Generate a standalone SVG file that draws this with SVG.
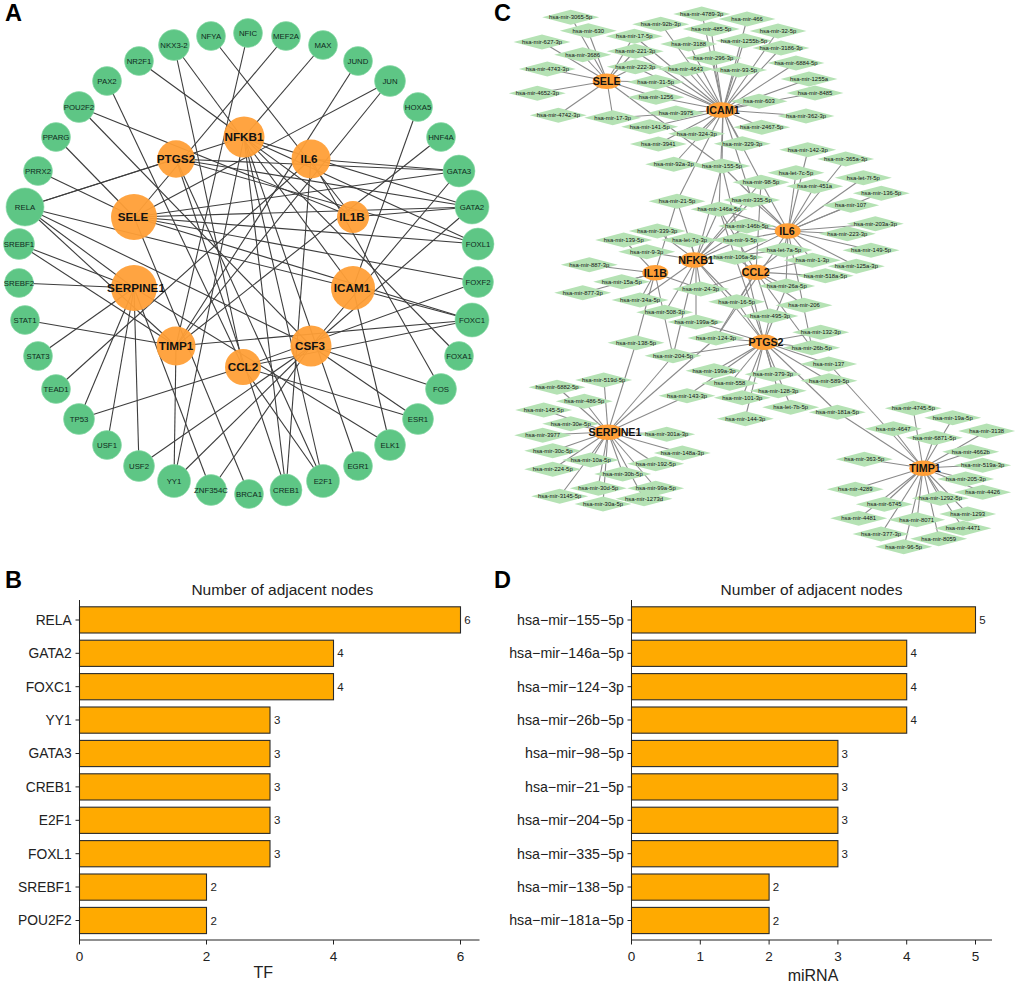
<svg xmlns="http://www.w3.org/2000/svg" width="1020" height="985" viewBox="0 0 1020 985">
<style>
text{font-family:"Liberation Sans",Arial,sans-serif;text-anchor:middle}
.bg{fill:#fff}
.ea line{stroke:#3d3d3d;stroke-width:1.1}
.ec line{stroke:#8a8a8a;stroke-width:1.1}
.tf{fill:#5ec685;stroke:#8fdcab;stroke-width:.6}
.tf+text{font-size:7.8px;fill:#0f2a20}
.ge{fill:#ff9f37;fill-opacity:.95}
.ge+text{font-size:11.7px;font-weight:bold;fill:#111}
.mi{fill:#b5e2b4}
.mt{font-size:5.9px;fill:#111}
.cg{fill:#ff9f37}
.cg+text{font-size:10.7px;font-weight:bold;fill:#111}
.let{font-size:23.5px;font-weight:bold;fill:#000;text-anchor:start}
.bar{fill:#ffaa00;stroke:#2b2b2b;stroke-width:1.1}
.ax{stroke:#222;stroke-width:1;fill:none}
.yl{font-size:13.8px;fill:#222;text-anchor:end}
.yd{font-size:14.2px;fill:#222;text-anchor:end}
.xl{font-size:13.5px;fill:#222}
.val{font-size:11.5px;fill:#222;text-anchor:start}
.ti{font-size:15.5px;fill:#222}
.at{font-size:16px;fill:#222}
</style>
<defs><polygon id="d" points="-28.5,0 0,-7.5 28.5,0 0,7.5"/></defs>
<rect class="bg" width="1020" height="985"/>
<text class="let" x="5" y="21">A</text><text class="let" x="5" y="588">B</text><text class="let" x="494" y="21">C</text><text class="let" x="494" y="588">D</text>

<g id="connectors-a" class="ea">
<line x1="139" y1="61" x2="353" y2="217"/><line x1="174" y1="45" x2="353" y2="288"/><line x1="174" y1="45" x2="243" y2="367"/><line x1="211" y1="36" x2="353" y2="217"/><line x1="248" y1="33" x2="176" y2="346"/><line x1="286" y1="36" x2="134" y2="217"/><line x1="323" y1="45" x2="244" y2="137"/><line x1="358" y1="61" x2="176" y2="346"/><line x1="390" y1="81" x2="176" y2="346"/><line x1="390" y1="81" x2="134" y2="217"/><line x1="418" y1="107" x2="353" y2="288"/><line x1="441" y1="137" x2="176" y2="346"/><line x1="459" y1="171" x2="311" y2="159"/><line x1="459" y1="171" x2="134" y2="217"/><line x1="459" y1="171" x2="311" y2="346"/><line x1="459" y1="171" x2="176" y2="159"/><line x1="472" y1="207" x2="176" y2="159"/><line x1="472" y1="207" x2="244" y2="137"/><line x1="472" y1="207" x2="353" y2="217"/><line x1="472" y1="207" x2="134" y2="217"/><line x1="472" y1="207" x2="311" y2="346"/><line x1="478" y1="244" x2="244" y2="137"/><line x1="478" y1="244" x2="176" y2="159"/><line x1="478" y1="244" x2="134" y2="217"/><line x1="478" y1="282" x2="243" y2="367"/><line x1="478" y1="282" x2="134" y2="217"/><line x1="472" y1="320" x2="353" y2="288"/><line x1="472" y1="320" x2="176" y2="346"/><line x1="472" y1="320" x2="243" y2="367"/><line x1="472" y1="320" x2="134" y2="217"/><line x1="459" y1="356" x2="244" y2="137"/><line x1="441" y1="389" x2="311" y2="159"/><line x1="441" y1="389" x2="311" y2="346"/><line x1="418" y1="419" x2="311" y2="346"/><line x1="418" y1="419" x2="243" y2="367"/><line x1="390" y1="445" x2="353" y2="288"/><line x1="390" y1="445" x2="134" y2="288"/><line x1="358" y1="466" x2="244" y2="137"/><line x1="323" y1="481" x2="244" y2="137"/><line x1="323" y1="481" x2="243" y2="367"/><line x1="323" y1="481" x2="176" y2="159"/><line x1="286" y1="490" x2="311" y2="159"/><line x1="286" y1="490" x2="244" y2="137"/><line x1="286" y1="490" x2="176" y2="159"/><line x1="249" y1="494" x2="134" y2="217"/><line x1="211" y1="490" x2="134" y2="288"/><line x1="211" y1="490" x2="311" y2="346"/><line x1="174" y1="481" x2="176" y2="346"/><line x1="174" y1="481" x2="244" y2="137"/><line x1="174" y1="481" x2="311" y2="346"/><line x1="139" y1="466" x2="134" y2="288"/><line x1="139" y1="466" x2="311" y2="346"/><line x1="107" y1="445" x2="134" y2="288"/><line x1="79" y1="419" x2="134" y2="288"/><line x1="79" y1="419" x2="243" y2="367"/><line x1="56" y1="389" x2="311" y2="159"/><line x1="38" y1="356" x2="134" y2="288"/><line x1="25" y1="320" x2="176" y2="346"/><line x1="19" y1="283" x2="134" y2="288"/><line x1="19" y1="244" x2="134" y2="288"/><line x1="19" y1="244" x2="176" y2="346"/><line x1="25" y1="207" x2="176" y2="159"/><line x1="25" y1="207" x2="244" y2="137"/><line x1="25" y1="207" x2="353" y2="288"/><line x1="25" y1="207" x2="311" y2="346"/><line x1="25" y1="207" x2="176" y2="346"/><line x1="25" y1="207" x2="134" y2="288"/><line x1="38" y1="171" x2="134" y2="217"/><line x1="56" y1="137" x2="134" y2="217"/><line x1="79" y1="107" x2="353" y2="217"/><line x1="79" y1="107" x2="311" y2="346"/><line x1="107" y1="81" x2="243" y2="367"/>
</g>

<g id="a-NFIC"><circle class="tf" cx="248" cy="33" r="14.5"/><text x="248" y="35.7">NFIC</text></g>
<g id="a-NFYA"><circle class="tf" cx="211" cy="36" r="14.5"/><text x="211" y="38.7">NFYA</text></g>
<g id="a-NKX3-2"><circle class="tf" cx="174" cy="45" r="15.5"/><text x="174" y="47.7">NKX3-2</text></g>
<g id="a-NR2F1"><circle class="tf" cx="139" cy="61" r="14.5"/><text x="139" y="63.7">NR2F1</text></g>
<g id="a-PAX2"><circle class="tf" cx="107" cy="81" r="14.5"/><text x="107" y="83.7">PAX2</text></g>
<g id="a-POU2F2"><circle class="tf" cx="79" cy="107" r="15.5"/><text x="79" y="109.7">POU2F2</text></g>
<g id="a-PPARG"><circle class="tf" cx="56" cy="137" r="14.5"/><text x="56" y="139.7">PPARG</text></g>
<g id="a-PRRX2"><circle class="tf" cx="38" cy="171" r="14.5"/><text x="38" y="173.7">PRRX2</text></g>
<g id="a-RELA"><circle class="tf" cx="25" cy="207" r="19"/><text x="25" y="209.7">RELA</text></g>
<g id="a-SREBF1"><circle class="tf" cx="19" cy="244" r="15.5"/><text x="19" y="246.7">SREBF1</text></g>
<g id="a-SREBF2"><circle class="tf" cx="19" cy="283" r="14.5"/><text x="19" y="285.7">SREBF2</text></g>
<g id="a-STAT1"><circle class="tf" cx="25" cy="320" r="14.5"/><text x="25" y="322.7">STAT1</text></g>
<g id="a-STAT3"><circle class="tf" cx="38" cy="356" r="14.5"/><text x="38" y="358.7">STAT3</text></g>
<g id="a-TEAD1"><circle class="tf" cx="56" cy="389" r="14.5"/><text x="56" y="391.7">TEAD1</text></g>
<g id="a-TP53"><circle class="tf" cx="79" cy="419" r="15.5"/><text x="79" y="421.7">TP53</text></g>
<g id="a-USF1"><circle class="tf" cx="107" cy="445" r="14.5"/><text x="107" y="447.7">USF1</text></g>
<g id="a-USF2"><circle class="tf" cx="139" cy="466" r="15.5"/><text x="139" y="468.7">USF2</text></g>
<g id="a-YY1"><circle class="tf" cx="174" cy="481" r="16.5"/><text x="174" y="483.7">YY1</text></g>
<g id="a-ZNF354C"><circle class="tf" cx="211" cy="490" r="15.5"/><text x="211" y="492.7">ZNF354C</text></g>
<g id="a-BRCA1"><circle class="tf" cx="249" cy="494" r="14.5"/><text x="249" y="496.7">BRCA1</text></g>
<g id="a-CREB1"><circle class="tf" cx="286" cy="490" r="16"/><text x="286" y="492.7">CREB1</text></g>
<g id="a-E2F1"><circle class="tf" cx="323" cy="481" r="16.5"/><text x="323" y="483.7">E2F1</text></g>
<g id="a-EGR1"><circle class="tf" cx="358" cy="466" r="14.5"/><text x="358" y="468.7">EGR1</text></g>
<g id="a-ELK1"><circle class="tf" cx="390" cy="445" r="15.5"/><text x="390" y="447.7">ELK1</text></g>
<g id="a-ESR1"><circle class="tf" cx="418" cy="419" r="15.5"/><text x="418" y="421.7">ESR1</text></g>
<g id="a-FOS"><circle class="tf" cx="441" cy="389" r="15.5"/><text x="441" y="391.7">FOS</text></g>
<g id="a-FOXA1"><circle class="tf" cx="459" cy="356" r="14.5"/><text x="459" y="358.7">FOXA1</text></g>
<g id="a-FOXC1"><circle class="tf" cx="472" cy="320" r="17"/><text x="472" y="322.7">FOXC1</text></g>
<g id="a-FOXF2"><circle class="tf" cx="478" cy="282" r="15.5"/><text x="478" y="284.7">FOXF2</text></g>
<g id="a-FOXL1"><circle class="tf" cx="478" cy="244" r="16"/><text x="478" y="246.7">FOXL1</text></g>
<g id="a-GATA2"><circle class="tf" cx="472" cy="207" r="17"/><text x="472" y="209.7">GATA2</text></g>
<g id="a-GATA3"><circle class="tf" cx="459" cy="171" r="16"/><text x="459" y="173.7">GATA3</text></g>
<g id="a-HNF4A"><circle class="tf" cx="441" cy="137" r="14.5"/><text x="441" y="139.7">HNF4A</text></g>
<g id="a-HOXA5"><circle class="tf" cx="418" cy="107" r="14.5"/><text x="418" y="109.7">HOXA5</text></g>
<g id="a-JUN"><circle class="tf" cx="390" cy="81" r="15.5"/><text x="390" y="83.7">JUN</text></g>
<g id="a-JUND"><circle class="tf" cx="358" cy="61" r="14.5"/><text x="358" y="63.7">JUND</text></g>
<g id="a-MAX"><circle class="tf" cx="323" cy="45" r="14.5"/><text x="323" y="47.7">MAX</text></g>
<g id="a-MEF2A"><circle class="tf" cx="286" cy="36" r="14.5"/><text x="286" y="38.7">MEF2A</text></g>
<g id="a-g-NFKB1"><circle class="ge" cx="244" cy="137" r="20.5"/><text x="244" y="141">NFKB1</text></g>
<g id="a-g-PTGS2"><circle class="ge" cx="176" cy="159" r="18.7"/><text x="176" y="163">PTGS2</text></g>
<g id="a-g-IL6"><circle class="ge" cx="311" cy="159" r="19.5"/><text x="309" y="163">IL6</text></g>
<g id="a-g-SELE"><circle class="ge" cx="134" cy="217" r="23"/><text x="133" y="221">SELE</text></g>
<g id="a-g-IL1B"><circle class="ge" cx="353" cy="217" r="16"/><text x="352" y="221">IL1B</text></g>
<g id="a-g-SERPINE1"><circle class="ge" cx="134" cy="288" r="23"/><text x="136" y="292">SERPINE1</text></g>
<g id="a-g-ICAM1"><circle class="ge" cx="353" cy="288" r="22"/><text x="352" y="292">ICAM1</text></g>
<g id="a-g-TIMP1"><circle class="ge" cx="176" cy="346" r="19.5"/><text x="176" y="350">TIMP1</text></g>
<g id="a-g-CCL2"><circle class="ge" cx="243" cy="367" r="18"/><text x="243" y="371">CCL2</text></g>
<g id="a-g-CSF3"><circle class="ge" cx="311" cy="346" r="20.5"/><text x="310" y="350">CSF3</text></g>

<g id="connectors-c" class="ec">
<line x1="607" y1="81" x2="571" y2="17"/><line x1="607" y1="81" x2="588" y2="31"/><line x1="607" y1="81" x2="542" y2="42"/><line x1="607" y1="81" x2="583" y2="55"/><line x1="607" y1="81" x2="547" y2="69"/><line x1="607" y1="81" x2="537" y2="93"/><line x1="607" y1="81" x2="558" y2="115"/><line x1="607" y1="81" x2="613" y2="118"/><line x1="607" y1="81" x2="634" y2="36"/><line x1="607" y1="81" x2="635" y2="51"/><line x1="607" y1="81" x2="635" y2="67"/><line x1="607" y1="81" x2="656" y2="82"/><line x1="607" y1="81" x2="656" y2="97"/><line x1="607" y1="81" x2="722" y2="166"/>
<line x1="723" y1="110" x2="702" y2="14"/><line x1="723" y1="110" x2="747" y2="19"/><line x1="723" y1="110" x2="661" y2="24"/><line x1="723" y1="110" x2="711" y2="29"/><line x1="723" y1="110" x2="778" y2="31"/><line x1="723" y1="110" x2="634" y2="36"/><line x1="723" y1="110" x2="689" y2="44"/><line x1="723" y1="110" x2="744" y2="41"/><line x1="723" y1="110" x2="635" y2="51"/><line x1="723" y1="110" x2="713" y2="58"/><line x1="723" y1="110" x2="781" y2="48"/><line x1="723" y1="110" x2="796" y2="63"/><line x1="723" y1="110" x2="686" y2="69"/><line x1="723" y1="110" x2="739" y2="70"/><line x1="723" y1="110" x2="809" y2="79"/><line x1="723" y1="110" x2="635" y2="67"/><line x1="723" y1="110" x2="656" y2="82"/><line x1="723" y1="110" x2="815" y2="93"/><line x1="723" y1="110" x2="759" y2="101"/><line x1="723" y1="110" x2="656" y2="97"/><line x1="723" y1="110" x2="613" y2="118"/><line x1="723" y1="110" x2="806" y2="116"/><line x1="723" y1="110" x2="762" y2="127"/><line x1="723" y1="110" x2="650" y2="127"/><line x1="723" y1="110" x2="742" y2="144"/><line x1="723" y1="110" x2="697" y2="134"/><line x1="723" y1="110" x2="658" y2="144"/><line x1="723" y1="110" x2="674" y2="164"/><line x1="723" y1="110" x2="722" y2="166"/><line x1="723" y1="110" x2="677" y2="201"/><line x1="723" y1="110" x2="719" y2="209"/><line x1="723" y1="110" x2="761" y2="182"/><line x1="723" y1="110" x2="752" y2="200"/>
<line x1="788" y1="231" x2="808" y2="150"/><line x1="788" y1="231" x2="846" y2="159"/><line x1="788" y1="231" x2="796" y2="173"/><line x1="788" y1="231" x2="863" y2="178"/><line x1="788" y1="231" x2="761" y2="182"/><line x1="788" y1="231" x2="815" y2="186"/><line x1="788" y1="231" x2="881" y2="193"/><line x1="788" y1="231" x2="851" y2="205"/><line x1="788" y1="231" x2="752" y2="200"/><line x1="788" y1="231" x2="719" y2="209"/><line x1="788" y1="231" x2="747" y2="226"/><line x1="788" y1="231" x2="875" y2="224"/><line x1="788" y1="231" x2="847" y2="234"/><line x1="788" y1="231" x2="871" y2="250"/><line x1="788" y1="231" x2="856" y2="266"/><line x1="788" y1="231" x2="740" y2="240"/><line x1="788" y1="231" x2="784" y2="250"/><line x1="788" y1="231" x2="722" y2="166"/><line x1="788" y1="231" x2="812" y2="260"/><line x1="788" y1="231" x2="735" y2="257"/><line x1="788" y1="231" x2="786" y2="286"/><line x1="788" y1="231" x2="812" y2="348"/><line x1="788" y1="231" x2="716" y2="338"/>
<line x1="696" y1="260" x2="657" y2="231"/><line x1="696" y1="260" x2="690" y2="240"/><line x1="696" y1="260" x2="647" y2="252"/><line x1="696" y1="260" x2="747" y2="226"/><line x1="696" y1="260" x2="740" y2="240"/><line x1="696" y1="260" x2="735" y2="257"/><line x1="696" y1="260" x2="719" y2="209"/><line x1="696" y1="260" x2="677" y2="201"/><line x1="696" y1="260" x2="722" y2="166"/><line x1="696" y1="260" x2="752" y2="200"/><line x1="696" y1="260" x2="701" y2="289"/><line x1="696" y1="260" x2="665" y2="312"/><line x1="696" y1="260" x2="696" y2="322"/><line x1="696" y1="260" x2="737" y2="302"/><line x1="696" y1="260" x2="640" y2="300"/><line x1="696" y1="260" x2="784" y2="250"/><line x1="696" y1="260" x2="764" y2="342"/><line x1="696" y1="260" x2="673" y2="356"/><line x1="696" y1="260" x2="761" y2="182"/>
<line x1="655" y1="273" x2="589" y2="265"/><line x1="655" y1="273" x2="622" y2="282"/><line x1="655" y1="273" x2="583" y2="293"/><line x1="655" y1="273" x2="624" y2="240"/><line x1="655" y1="273" x2="640" y2="300"/><line x1="655" y1="273" x2="701" y2="289"/><line x1="655" y1="273" x2="677" y2="201"/><line x1="655" y1="273" x2="636" y2="343"/><line x1="655" y1="273" x2="673" y2="356"/>
<line x1="756" y1="272" x2="735" y2="257"/><line x1="756" y1="272" x2="812" y2="260"/><line x1="756" y1="272" x2="825" y2="276"/><line x1="756" y1="272" x2="701" y2="289"/><line x1="756" y1="272" x2="787" y2="286"/><line x1="756" y1="272" x2="737" y2="302"/><line x1="756" y1="272" x2="770" y2="316"/><line x1="756" y1="272" x2="804" y2="305"/><line x1="756" y1="272" x2="784" y2="250"/><line x1="756" y1="272" x2="716" y2="338"/><line x1="756" y1="272" x2="719" y2="209"/><line x1="756" y1="272" x2="761" y2="182"/><line x1="756" y1="272" x2="812" y2="348"/>
<line x1="764" y1="342" x2="821" y2="332"/><line x1="764" y1="342" x2="812" y2="348"/><line x1="764" y1="342" x2="829" y2="364"/><line x1="764" y1="342" x2="829" y2="381"/><line x1="764" y1="342" x2="773" y2="374"/><line x1="764" y1="342" x2="778" y2="391"/><line x1="764" y1="342" x2="791" y2="407"/><line x1="764" y1="342" x2="837" y2="412"/><line x1="764" y1="342" x2="745" y2="419"/><line x1="764" y1="342" x2="742" y2="398"/><line x1="764" y1="342" x2="730" y2="383"/><line x1="764" y1="342" x2="714" y2="371"/><line x1="764" y1="342" x2="687" y2="396"/><line x1="764" y1="342" x2="716" y2="338"/><line x1="764" y1="342" x2="673" y2="356"/><line x1="764" y1="342" x2="696" y2="322"/><line x1="764" y1="342" x2="770" y2="316"/><line x1="764" y1="342" x2="737" y2="302"/><line x1="764" y1="342" x2="787" y2="286"/><line x1="764" y1="342" x2="722" y2="166"/><line x1="764" y1="342" x2="719" y2="209"/>
<line x1="923" y1="468" x2="829" y2="364"/><line x1="923" y1="468" x2="913" y2="408"/><line x1="923" y1="468" x2="953" y2="418"/><line x1="923" y1="468" x2="893" y2="429"/><line x1="923" y1="468" x2="987" y2="431"/><line x1="923" y1="468" x2="934" y2="438"/><line x1="923" y1="468" x2="971" y2="452"/><line x1="923" y1="468" x2="864" y2="459"/><line x1="923" y1="468" x2="983" y2="465"/><line x1="923" y1="468" x2="966" y2="479"/><line x1="923" y1="468" x2="983" y2="492"/><line x1="923" y1="468" x2="855" y2="489"/><line x1="923" y1="468" x2="940" y2="498"/><line x1="923" y1="468" x2="884" y2="504"/><line x1="923" y1="468" x2="968" y2="514"/><line x1="923" y1="468" x2="859" y2="518"/><line x1="923" y1="468" x2="917" y2="520"/><line x1="923" y1="468" x2="963" y2="528"/><line x1="923" y1="468" x2="881" y2="534"/><line x1="923" y1="468" x2="939" y2="539"/><line x1="923" y1="468" x2="904" y2="547"/><line x1="923" y1="468" x2="837" y2="412"/>
<line x1="608" y1="432" x2="604" y2="380"/><line x1="608" y1="432" x2="557" y2="387"/><line x1="608" y1="432" x2="584" y2="401"/><line x1="608" y1="432" x2="544" y2="410"/><line x1="608" y1="432" x2="571" y2="424"/><line x1="608" y1="432" x2="543" y2="435"/><line x1="608" y1="432" x2="667" y2="434"/><line x1="608" y1="432" x2="682" y2="453"/><line x1="608" y1="432" x2="553" y2="451"/><line x1="608" y1="432" x2="591" y2="460"/><line x1="608" y1="432" x2="656" y2="464"/><line x1="608" y1="432" x2="553" y2="469"/><line x1="608" y1="432" x2="623" y2="474"/><line x1="608" y1="432" x2="656" y2="488"/><line x1="608" y1="432" x2="598" y2="488"/><line x1="608" y1="432" x2="560" y2="496"/><line x1="608" y1="432" x2="644" y2="499"/><line x1="608" y1="432" x2="603" y2="504"/><line x1="608" y1="432" x2="636" y2="343"/><line x1="608" y1="432" x2="673" y2="356"/><line x1="608" y1="432" x2="687" y2="396"/><line x1="608" y1="432" x2="716" y2="338"/>
</g>

<g id="c-627-3p"><use href="#d" class="mi" x="542" y="42"/><text class="mt" x="542" y="44">hsa-mir-627-3p</text></g>
<g id="c-3065-5p"><use href="#d" class="mi" x="570.7" y="17.3"/><text class="mt" x="570.7" y="19.3">hsa-mir-3065-5p</text></g>
<g id="c-630"><use href="#d" class="mi" x="588.3" y="30.7"/><text class="mt" x="588.3" y="32.7">hsa-mir-630</text></g>
<g id="c-3686"><use href="#d" class="mi" x="582.7" y="54.7"/><text class="mt" x="582.7" y="56.7">hsa-mir-3686</text></g>
<g id="c-4743-3p"><use href="#d" class="mi" x="547.3" y="69"/><text class="mt" x="547.3" y="71">hsa-mir-4743-3p</text></g>
<g id="c-4652-3p"><use href="#d" class="mi" x="537.3" y="93.3"/><text class="mt" x="537.3" y="95.3">hsa-mir-4652-3p</text></g>
<g id="c-4742-3p"><use href="#d" class="mi" x="558.3" y="115.3"/><text class="mt" x="558.3" y="117.3">hsa-mir-4742-3p</text></g>
<g id="c-17-3p"><use href="#d" class="mi" x="612.7" y="117.7"/><text class="mt" x="612.7" y="119.7">hsa-mir-17-3p</text></g>
<g id="c-17-5p"><use href="#d" class="mi" x="634.3" y="36.3"/><text class="mt" x="634.3" y="38.3">hsa-mir-17-5p</text></g>
<g id="c-92b-3p"><use href="#d" class="mi" x="660.7" y="24.3"/><text class="mt" x="660.7" y="26.3">hsa-mir-92b-3p</text></g>
<g id="c-221-3p"><use href="#d" class="mi" x="635.3" y="51.3"/><text class="mt" x="635.3" y="53.3">hsa-mir-221-3p</text></g>
<g id="c-222-3p"><use href="#d" class="mi" x="635.3" y="66.7"/><text class="mt" x="635.3" y="68.7">hsa-mir-222-3p</text></g>
<g id="c-31-5p"><use href="#d" class="mi" x="655.7" y="82"/><text class="mt" x="655.7" y="84">hsa-mir-31-5p</text></g>
<g id="c-1256"><use href="#d" class="mi" x="656" y="97.3"/><text class="mt" x="656" y="99.3">hsa-mir-1256</text></g>
<g id="c-3975"><use href="#d" class="mi" x="676" y="113"/><text class="mt" x="676" y="115">hsa-mir-3975</text></g>
<g id="c-141-5p"><use href="#d" class="mi" x="649.7" y="126.7"/><text class="mt" x="649.7" y="128.7">hsa-mir-141-5p</text></g>
<g id="c-3941"><use href="#d" class="mi" x="658.3" y="144"/><text class="mt" x="658.3" y="146">hsa-mir-3941</text></g>
<g id="c-324-3p"><use href="#d" class="mi" x="696.7" y="133.7"/><text class="mt" x="696.7" y="135.7">hsa-mir-324-3p</text></g>
<g id="c-329-3p"><use href="#d" class="mi" x="742.3" y="143.7"/><text class="mt" x="742.3" y="145.7">hsa-mir-329-3p</text></g>
<g id="c-92a-3p"><use href="#d" class="mi" x="673.7" y="164.3"/><text class="mt" x="673.7" y="166.3">hsa-mir-92a-3p</text></g>
<g id="c-155-5p"><use href="#d" class="mi" x="722" y="166"/><text class="mt" x="722" y="168">hsa-mir-155-5p</text></g>
<g id="c-4789-3p"><use href="#d" class="mi" x="701.7" y="14"/><text class="mt" x="701.7" y="16">hsa-mir-4789-3p</text></g>
<g id="c-466"><use href="#d" class="mi" x="747" y="19"/><text class="mt" x="747" y="21">hsa-mir-466</text></g>
<g id="c-485-5p"><use href="#d" class="mi" x="711.3" y="29"/><text class="mt" x="711.3" y="31">hsa-mir-485-5p</text></g>
<g id="c-32-5p"><use href="#d" class="mi" x="778" y="31"/><text class="mt" x="778" y="33">hsa-mir-32-5p</text></g>
<g id="c-3188"><use href="#d" class="mi" x="688.7" y="44"/><text class="mt" x="688.7" y="46">hsa-mir-3188</text></g>
<g id="c-1255b-5p"><use href="#d" class="mi" x="744" y="40.7"/><text class="mt" x="744" y="42.7">hsa-mir-1255b-5p</text></g>
<g id="c-3186-3p"><use href="#d" class="mi" x="781" y="48"/><text class="mt" x="781" y="50">hsa-mir-3186-3p</text></g>
<g id="c-296-3p"><use href="#d" class="mi" x="713.3" y="58"/><text class="mt" x="713.3" y="60">hsa-mir-296-3p</text></g>
<g id="c-6884-5p"><use href="#d" class="mi" x="796" y="63"/><text class="mt" x="796" y="65">hsa-mir-6884-5p</text></g>
<g id="c-4643"><use href="#d" class="mi" x="685.7" y="69"/><text class="mt" x="685.7" y="71">hsa-mir-4643</text></g>
<g id="c-93-5p"><use href="#d" class="mi" x="738.7" y="70"/><text class="mt" x="738.7" y="72">hsa-mir-93-5p</text></g>
<g id="c-1255a"><use href="#d" class="mi" x="809" y="79"/><text class="mt" x="809" y="81">hsa-mir-1255a</text></g>
<g id="c-8485"><use href="#d" class="mi" x="815" y="93"/><text class="mt" x="815" y="95">hsa-mir-8485</text></g>
<g id="c-603"><use href="#d" class="mi" x="759" y="101.3"/><text class="mt" x="759" y="103.3">hsa-mir-603</text></g>
<g id="c-362-3p"><use href="#d" class="mi" x="806" y="116"/><text class="mt" x="806" y="118">hsa-mir-362-3p</text></g>
<g id="c-2467-5p"><use href="#d" class="mi" x="761.7" y="127.3"/><text class="mt" x="761.7" y="129.3">hsa-mir-2467-5p</text></g>
<g id="c-142-3p"><use href="#d" class="mi" x="807.7" y="149.7"/><text class="mt" x="807.7" y="151.7">hsa-mir-142-3p</text></g>
<g id="c-365a-3p"><use href="#d" class="mi" x="845.7" y="159"/><text class="mt" x="845.7" y="161">hsa-mir-365a-3p</text></g>
<g id="c-let-7c-5p"><use href="#d" class="mi" x="796" y="172.7"/><text class="mt" x="796" y="174.7">hsa-let-7c-5p</text></g>
<g id="c-let-7f-5p"><use href="#d" class="mi" x="863.3" y="177.7"/><text class="mt" x="863.3" y="179.7">hsa-let-7f-5p</text></g>
<g id="c-98-5p"><use href="#d" class="mi" x="761" y="182.3"/><text class="mt" x="761" y="184.3">hsa-mir-98-5p</text></g>
<g id="c-451a"><use href="#d" class="mi" x="814.7" y="186.3"/><text class="mt" x="814.7" y="188.3">hsa-mir-451a</text></g>
<g id="c-136-5p"><use href="#d" class="mi" x="881.3" y="193.3"/><text class="mt" x="881.3" y="195.3">hsa-mir-136-5p</text></g>
<g id="c-335-5p"><use href="#d" class="mi" x="751.7" y="200"/><text class="mt" x="751.7" y="202">hsa-mir-335-5p</text></g>
<g id="c-21-5p"><use href="#d" class="mi" x="677" y="201.3"/><text class="mt" x="677" y="203.3">hsa-mir-21-5p</text></g>
<g id="c-107"><use href="#d" class="mi" x="850.7" y="205.3"/><text class="mt" x="850.7" y="207.3">hsa-mir-107</text></g>
<g id="c-146a-5p"><use href="#d" class="mi" x="719" y="209.3"/><text class="mt" x="719" y="211.3">hsa-mir-146a-5p</text></g>
<g id="c-203a-3p"><use href="#d" class="mi" x="875.3" y="223.7"/><text class="mt" x="875.3" y="225.7">hsa-mir-203a-3p</text></g>
<g id="c-146b-5p"><use href="#d" class="mi" x="746.7" y="226"/><text class="mt" x="746.7" y="228">hsa-mir-146b-5p</text></g>
<g id="c-339-3p"><use href="#d" class="mi" x="657.3" y="231"/><text class="mt" x="657.3" y="233">hsa-mir-339-3p</text></g>
<g id="c-223-3p"><use href="#d" class="mi" x="847.3" y="233.7"/><text class="mt" x="847.3" y="235.7">hsa-mir-223-3p</text></g>
<g id="c-139-5p"><use href="#d" class="mi" x="623.7" y="240"/><text class="mt" x="623.7" y="242">hsa-mir-139-5p</text></g>
<g id="c-let-7g-3p"><use href="#d" class="mi" x="689.7" y="240"/><text class="mt" x="689.7" y="242">hsa-let-7g-3p</text></g>
<g id="c-9-5p"><use href="#d" class="mi" x="740" y="240"/><text class="mt" x="740" y="242">hsa-mir-9-5p</text></g>
<g id="c-let-7a-5p"><use href="#d" class="mi" x="784" y="250"/><text class="mt" x="784" y="252">hsa-let-7a-5p</text></g>
<g id="c-149-5p"><use href="#d" class="mi" x="871" y="250.3"/><text class="mt" x="871" y="252.3">hsa-mir-149-5p</text></g>
<g id="c-9-3p"><use href="#d" class="mi" x="646.7" y="251.7"/><text class="mt" x="646.7" y="253.7">hsa-mir-9-3p</text></g>
<g id="c-106a-5p"><use href="#d" class="mi" x="735" y="257.3"/><text class="mt" x="735" y="259.3">hsa-mir-106a-5p</text></g>
<g id="c-1-3p"><use href="#d" class="mi" x="812.3" y="260.3"/><text class="mt" x="812.3" y="262.3">hsa-mir-1-3p</text></g>
<g id="c-887-3p"><use href="#d" class="mi" x="589.3" y="264.7"/><text class="mt" x="589.3" y="266.7">hsa-mir-887-3p</text></g>
<g id="c-125a-3p"><use href="#d" class="mi" x="856.3" y="266.3"/><text class="mt" x="856.3" y="268.3">hsa-mir-125a-3p</text></g>
<g id="c-518a-5p"><use href="#d" class="mi" x="825.3" y="275.7"/><text class="mt" x="825.3" y="277.7">hsa-mir-518a-5p</text></g>
<g id="c-15a-5p"><use href="#d" class="mi" x="621.7" y="281.7"/><text class="mt" x="621.7" y="283.7">hsa-mir-15a-5p</text></g>
<g id="c-26a-5p"><use href="#d" class="mi" x="786.7" y="286"/><text class="mt" x="786.7" y="288">hsa-mir-26a-5p</text></g>
<g id="c-24-3p"><use href="#d" class="mi" x="700.7" y="289"/><text class="mt" x="700.7" y="291">hsa-mir-24-3p</text></g>
<g id="c-877-3p"><use href="#d" class="mi" x="582.7" y="292.7"/><text class="mt" x="582.7" y="294.7">hsa-mir-877-3p</text></g>
<g id="c-34a-5p"><use href="#d" class="mi" x="640" y="300"/><text class="mt" x="640" y="302">hsa-mir-34a-5p</text></g>
<g id="c-16-5p"><use href="#d" class="mi" x="736.7" y="301.7"/><text class="mt" x="736.7" y="303.7">hsa-mir-16-5p</text></g>
<g id="c-206"><use href="#d" class="mi" x="804" y="305.3"/><text class="mt" x="804" y="307.3">hsa-mir-206</text></g>
<g id="c-508-3p"><use href="#d" class="mi" x="664.7" y="312.3"/><text class="mt" x="664.7" y="314.3">hsa-mir-508-3p</text></g>
<g id="c-495-3p"><use href="#d" class="mi" x="770" y="316"/><text class="mt" x="770" y="318">hsa-mir-495-3p</text></g>
<g id="c-199a-5p"><use href="#d" class="mi" x="696" y="322"/><text class="mt" x="696" y="324">hsa-mir-199a-5p</text></g>
<g id="c-132-3p"><use href="#d" class="mi" x="820.7" y="332.3"/><text class="mt" x="820.7" y="334.3">hsa-mir-132-3p</text></g>
<g id="c-124-3p"><use href="#d" class="mi" x="716" y="338"/><text class="mt" x="716" y="340">hsa-mir-124-3p</text></g>
<g id="c-138-5p"><use href="#d" class="mi" x="636" y="342.7"/><text class="mt" x="636" y="344.7">hsa-mir-138-5p</text></g>
<g id="c-26b-5p"><use href="#d" class="mi" x="811.7" y="347.7"/><text class="mt" x="811.7" y="349.7">hsa-mir-26b-5p</text></g>
<g id="c-204-5p"><use href="#d" class="mi" x="673" y="355.7"/><text class="mt" x="673" y="357.7">hsa-mir-204-5p</text></g>
<g id="c-137"><use href="#d" class="mi" x="828.7" y="364"/><text class="mt" x="828.7" y="366">hsa-mir-137</text></g>
<g id="c-199a-3p"><use href="#d" class="mi" x="714" y="370.7"/><text class="mt" x="714" y="372.7">hsa-mir-199a-3p</text></g>
<g id="c-379-3p"><use href="#d" class="mi" x="773" y="374.3"/><text class="mt" x="773" y="376.3">hsa-mir-379-3p</text></g>
<g id="c-519d-5p"><use href="#d" class="mi" x="603.7" y="380"/><text class="mt" x="603.7" y="382">hsa-mir-519d-5p</text></g>
<g id="c-589-5p"><use href="#d" class="mi" x="829" y="380.7"/><text class="mt" x="829" y="382.7">hsa-mir-589-5p</text></g>
<g id="c-558"><use href="#d" class="mi" x="729.7" y="383.3"/><text class="mt" x="729.7" y="385.3">hsa-mir-558</text></g>
<g id="c-6882-5p"><use href="#d" class="mi" x="557" y="387.3"/><text class="mt" x="557" y="389.3">hsa-mir-6882-5p</text></g>
<g id="c-128-3p"><use href="#d" class="mi" x="778.3" y="390.7"/><text class="mt" x="778.3" y="392.7">hsa-mir-128-3p</text></g>
<g id="c-143-3p"><use href="#d" class="mi" x="687" y="395.7"/><text class="mt" x="687" y="397.7">hsa-mir-143-3p</text></g>
<g id="c-101-3p"><use href="#d" class="mi" x="742.3" y="397.7"/><text class="mt" x="742.3" y="399.7">hsa-mir-101-3p</text></g>
<g id="c-486-5p"><use href="#d" class="mi" x="584.3" y="401.3"/><text class="mt" x="584.3" y="403.3">hsa-mir-486-5p</text></g>
<g id="c-let-7b-5p"><use href="#d" class="mi" x="790.7" y="407.3"/><text class="mt" x="790.7" y="409.3">hsa-let-7b-5p</text></g>
<g id="c-4745-5p"><use href="#d" class="mi" x="913.3" y="408.3"/><text class="mt" x="913.3" y="410.3">hsa-mir-4745-5p</text></g>
<g id="c-145-5p"><use href="#d" class="mi" x="543.7" y="410"/><text class="mt" x="543.7" y="412">hsa-mir-145-5p</text></g>
<g id="c-181a-5p"><use href="#d" class="mi" x="837.3" y="412.3"/><text class="mt" x="837.3" y="414.3">hsa-mir-181a-5p</text></g>
<g id="c-19a-5p"><use href="#d" class="mi" x="952.7" y="417.7"/><text class="mt" x="952.7" y="419.7">hsa-mir-19a-5p</text></g>
<g id="c-144-3p"><use href="#d" class="mi" x="745.3" y="418.7"/><text class="mt" x="745.3" y="420.7">hsa-mir-144-3p</text></g>
<g id="c-30e-5p"><use href="#d" class="mi" x="570.7" y="423.7"/><text class="mt" x="570.7" y="425.7">hsa-mir-30e-5p</text></g>
<g id="c-4647"><use href="#d" class="mi" x="893.3" y="428.7"/><text class="mt" x="893.3" y="430.7">hsa-mir-4647</text></g>
<g id="c-3138"><use href="#d" class="mi" x="986.7" y="431"/><text class="mt" x="986.7" y="433">hsa-mir-3138</text></g>
<g id="c-301a-3p"><use href="#d" class="mi" x="666.7" y="434.3"/><text class="mt" x="666.7" y="436.3">hsa-mir-301a-3p</text></g>
<g id="c-3977"><use href="#d" class="mi" x="542.7" y="435.3"/><text class="mt" x="542.7" y="437.3">hsa-mir-3977</text></g>
<g id="c-6871-5p"><use href="#d" class="mi" x="934.3" y="437.7"/><text class="mt" x="934.3" y="439.7">hsa-mir-6871-5p</text></g>
<g id="c-30c-5p"><use href="#d" class="mi" x="552.7" y="450.7"/><text class="mt" x="552.7" y="452.7">hsa-mir-30c-5p</text></g>
<g id="c-4662b"><use href="#d" class="mi" x="970.7" y="451.7"/><text class="mt" x="970.7" y="453.7">hsa-mir-4662b</text></g>
<g id="c-148a-3p"><use href="#d" class="mi" x="682.3" y="453"/><text class="mt" x="682.3" y="455">hsa-mir-148a-3p</text></g>
<g id="c-363-5p"><use href="#d" class="mi" x="864.3" y="459.3"/><text class="mt" x="864.3" y="461.3">hsa-mir-363-5p</text></g>
<g id="c-10a-5p"><use href="#d" class="mi" x="590.7" y="460"/><text class="mt" x="590.7" y="462">hsa-mir-10a-5p</text></g>
<g id="c-192-5p"><use href="#d" class="mi" x="655.7" y="463.7"/><text class="mt" x="655.7" y="465.7">hsa-mir-192-5p</text></g>
<g id="c-519a-3p"><use href="#d" class="mi" x="982.7" y="465.3"/><text class="mt" x="982.7" y="467.3">hsa-mir-519a-3p</text></g>
<g id="c-224-5p"><use href="#d" class="mi" x="552.7" y="469.3"/><text class="mt" x="552.7" y="471.3">hsa-mir-224-5p</text></g>
<g id="c-30b-5p"><use href="#d" class="mi" x="622.7" y="474"/><text class="mt" x="622.7" y="476">hsa-mir-30b-5p</text></g>
<g id="c-205-3p"><use href="#d" class="mi" x="965.7" y="479"/><text class="mt" x="965.7" y="481">hsa-mir-205-3p</text></g>
<g id="c-99a-5p"><use href="#d" class="mi" x="655.7" y="488.3"/><text class="mt" x="655.7" y="490.3">hsa-mir-99a-5p</text></g>
<g id="c-30d-5p"><use href="#d" class="mi" x="598.3" y="488.3"/><text class="mt" x="598.3" y="490.3">hsa-mir-30d-5p</text></g>
<g id="c-4289"><use href="#d" class="mi" x="855.3" y="489.3"/><text class="mt" x="855.3" y="491.3">hsa-mir-4289</text></g>
<g id="c-4426"><use href="#d" class="mi" x="982.7" y="492.3"/><text class="mt" x="982.7" y="494.3">hsa-mir-4426</text></g>
<g id="c-3145-5p"><use href="#d" class="mi" x="559.7" y="496.3"/><text class="mt" x="559.7" y="498.3">hsa-mir-3145-5p</text></g>
<g id="c-1292-5p"><use href="#d" class="mi" x="940.3" y="498.3"/><text class="mt" x="940.3" y="500.3">hsa-mir-1292-5p</text></g>
<g id="c-1273d"><use href="#d" class="mi" x="644" y="498.7"/><text class="mt" x="644" y="500.7">hsa-mir-1273d</text></g>
<g id="c-30a-5p"><use href="#d" class="mi" x="603" y="504"/><text class="mt" x="603" y="506">hsa-mir-30a-5p</text></g>
<g id="c-6745"><use href="#d" class="mi" x="884.3" y="504.3"/><text class="mt" x="884.3" y="506.3">hsa-mir-6745</text></g>
<g id="c-1293"><use href="#d" class="mi" x="967.7" y="514"/><text class="mt" x="967.7" y="516">hsa-mir-1293</text></g>
<g id="c-4481"><use href="#d" class="mi" x="858.7" y="518.3"/><text class="mt" x="858.7" y="520.3">hsa-mir-4481</text></g>
<g id="c-8071"><use href="#d" class="mi" x="916.7" y="519.7"/><text class="mt" x="916.7" y="521.7">hsa-mir-8071</text></g>
<g id="c-4471"><use href="#d" class="mi" x="963" y="528.3"/><text class="mt" x="963" y="530.3">hsa-mir-4471</text></g>
<g id="c-377-3p"><use href="#d" class="mi" x="881" y="534"/><text class="mt" x="881" y="536">hsa-mir-377-3p</text></g>
<g id="c-8059"><use href="#d" class="mi" x="938.7" y="538.7"/><text class="mt" x="938.7" y="540.7">hsa-mir-8059</text></g>
<g id="c-96-5p"><use href="#d" class="mi" x="903.7" y="546.7"/><text class="mt" x="903.7" y="548.7">hsa-mir-96-5p</text></g>

<g id="c-g-SELE"><ellipse class="cg" cx="606.7" cy="81.3" rx="14" ry="7.8"/><text x="606.7" y="85">SELE</text></g>
<g id="c-g-ICAM1"><ellipse class="cg" cx="721" cy="110" rx="15" ry="7.8"/><text x="723" y="114">ICAM1</text></g>
<g id="c-g-IL6"><ellipse class="cg" cx="787.7" cy="231" rx="13" ry="7.8"/><text x="787" y="235">IL6</text></g>
<g id="c-g-NFKB1"><ellipse class="cg" cx="694" cy="260" rx="14" ry="7.8"/><text x="696" y="264">NFKB1</text></g>
<g id="c-g-IL1B"><ellipse class="cg" cx="655.3" cy="272.7" rx="13" ry="7.8"/><text x="655.3" y="276.5">IL1B</text></g>
<g id="c-g-CCL2"><ellipse class="cg" cx="755.7" cy="272.3" rx="14" ry="7.8"/><text x="755.7" y="276">CCL2</text></g>
<g id="c-g-PTGS2"><ellipse class="cg" cx="764" cy="342.3" rx="14" ry="7.8"/><text x="766" y="346">PTGS2</text></g>
<g id="c-g-SERPINE1"><ellipse class="cg" cx="608" cy="432.3" rx="15" ry="7.8"/><text x="615" y="436">SERPINE1</text></g>
<g id="c-g-TIMP1"><ellipse class="cg" cx="923.3" cy="468.3" rx="14" ry="7.8"/><text x="925" y="472">TIMP1</text></g>

<g id="chart-b">
<text class="ti" x="282.3" y="595">Number of adjacent nodes</text>
<rect class="bar" x="79.5" y="606.8" width="381" height="26.2"/><rect class="bar" x="79.5" y="640.2" width="254" height="26.2"/><rect class="bar" x="79.5" y="673.6" width="254" height="26.2"/><rect class="bar" x="79.5" y="707" width="190.5" height="26.2"/><rect class="bar" x="79.5" y="740.4" width="190.5" height="26.2"/><rect class="bar" x="79.5" y="773.8" width="190.5" height="26.2"/><rect class="bar" x="79.5" y="807.2" width="190.5" height="26.2"/><rect class="bar" x="79.5" y="840.6" width="190.5" height="26.2"/><rect class="bar" x="79.5" y="874" width="127" height="26.2"/><rect class="bar" x="79.5" y="907.4" width="127" height="26.2"/>
<path class="ax" d="M79.5 600V940H479.5M75.5 620H79.5M75.5 653.3H79.5M75.5 686.7H79.5M75.5 720H79.5M75.5 753.5H79.5M75.5 786.9H79.5M75.5 820.3H79.5M75.5 853.7H79.5M75.5 887H79.5M75.5 920.5H79.5M79.5 940V944.5M206.5 940V944.5M333.5 940V944.5M460.5 940V944.5"/>
<text class="yl" x="71.7" y="624.8">RELA</text><text class="yl" x="71.7" y="658.2">GATA2</text><text class="yl" x="71.7" y="691.6">FOXC1</text><text class="yl" x="71.7" y="725">YY1</text><text class="yl" x="71.7" y="758.4">GATA3</text><text class="yl" x="71.7" y="791.8">CREB1</text><text class="yl" x="71.7" y="825.2">E2F1</text><text class="yl" x="71.7" y="858.6">FOXL1</text><text class="yl" x="71.7" y="892">SREBF1</text><text class="yl" x="71.7" y="925.4">POU2F2</text>
<text class="val" x="464.3" y="624">6</text><text class="val" x="337.3" y="657.4">4</text><text class="val" x="337.3" y="690.8">4</text><text class="val" x="274" y="724.2">3</text><text class="val" x="274" y="757.6">3</text><text class="val" x="274" y="791">3</text><text class="val" x="274" y="824.4">3</text><text class="val" x="274" y="857.8">3</text><text class="val" x="210.5" y="891.2">2</text><text class="val" x="210.5" y="924.6">2</text>
<text class="xl" x="79.5" y="960.5">0</text><text class="xl" x="206.5" y="960.5">2</text><text class="xl" x="333.5" y="960.5">4</text><text class="xl" x="460.5" y="960.5">6</text>
<text class="at" x="263.3" y="978">TF</text>
</g>

<g id="chart-d">
<text class="ti" x="811.5" y="595">Number of adjacent nodes</text>
<rect class="bar" x="631.5" y="606.8" width="344" height="26.2"/><rect class="bar" x="631.5" y="640.2" width="275.2" height="26.2"/><rect class="bar" x="631.5" y="673.6" width="275.2" height="26.2"/><rect class="bar" x="631.5" y="707" width="275.2" height="26.2"/><rect class="bar" x="631.5" y="740.4" width="206.4" height="26.2"/><rect class="bar" x="631.5" y="773.8" width="206.4" height="26.2"/><rect class="bar" x="631.5" y="807.2" width="206.4" height="26.2"/><rect class="bar" x="631.5" y="840.6" width="206.4" height="26.2"/><rect class="bar" x="631.5" y="874" width="137.6" height="26.2"/><rect class="bar" x="631.5" y="907.4" width="137.6" height="26.2"/>
<path class="ax" d="M631.5 600V940H992M627.5 620H631.5M627.5 653.3H631.5M627.5 686.7H631.5M627.5 720H631.5M627.5 753.5H631.5M627.5 786.9H631.5M627.5 820.3H631.5M627.5 853.7H631.5M627.5 887H631.5M627.5 920.5H631.5M631.5 940V944.5M700.3 940V944.5M769.1 940V944.5M837.9 940V944.5M906.7 940V944.5M975.5 940V944.5"/>
<text class="yd" x="624" y="624.8">hsa−mir−155−5p</text><text class="yd" x="624" y="658.2">hsa−mir−146a−5p</text><text class="yd" x="624" y="691.6">hsa−mir−124−3p</text><text class="yd" x="624" y="725">hsa−mir−26b−5p</text><text class="yd" x="624" y="758.4">hsa−mir−98−5p</text><text class="yd" x="624" y="791.8">hsa−mir−21−5p</text><text class="yd" x="624" y="825.2">hsa−mir−204−5p</text><text class="yd" x="624" y="858.6">hsa−mir−335−5p</text><text class="yd" x="624" y="892">hsa−mir−138−5p</text><text class="yd" x="624" y="925.4">hsa−mir−181a−5p</text>
<text class="val" x="979.3" y="624">5</text><text class="val" x="910.5" y="657.4">4</text><text class="val" x="910.5" y="690.8">4</text><text class="val" x="910.5" y="724.2">4</text><text class="val" x="841.5" y="757.6">3</text><text class="val" x="841.5" y="791">3</text><text class="val" x="841.5" y="824.4">3</text><text class="val" x="841.5" y="857.8">3</text><text class="val" x="772.7" y="891.2">2</text><text class="val" x="772.7" y="924.6">2</text>
<text class="xl" x="631.5" y="960.5">0</text><text class="xl" x="700.3" y="960.5">1</text><text class="xl" x="769.1" y="960.5">2</text><text class="xl" x="837.9" y="960.5">3</text><text class="xl" x="906.7" y="960.5">4</text><text class="xl" x="975.5" y="960.5">5</text>
<text class="at" x="813" y="981">miRNA</text>
</g>
</svg>
